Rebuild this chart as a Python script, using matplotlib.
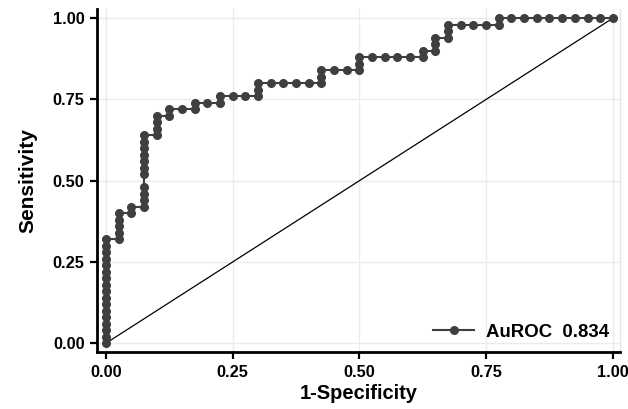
import matplotlib
matplotlib.use("Agg")
import matplotlib.pyplot as plt

plt.rcParams['font.family'] = ['Liberation Sans', 'DejaVu Sans']
plt.rcParams['font.weight'] = 'bold'

# ROC points (1-specificity, sensitivity)
fpr = [0.000, 0.000, 0.000, 0.000, 0.000, 0.000, 0.000, 0.000, 0.000,
       0.000, 0.000, 0.000, 0.000, 0.000, 0.000, 0.000, 0.000,
       0.025, 0.025, 0.025, 0.025, 0.025,
       0.050, 0.050,
       0.075, 0.075, 0.075, 0.075, 0.075, 0.075, 0.075, 0.075, 0.075, 0.075, 0.075,
       0.100, 0.100, 0.100, 0.100,
       0.125, 0.125,
       0.150,
       0.175, 0.175,
       0.200,
       0.225, 0.225,
       0.250,
       0.275,
       0.300, 0.300, 0.300,
       0.325, 0.350, 0.375, 0.400,
       0.425, 0.425, 0.425,
       0.450, 0.475,
       0.500, 0.500, 0.500,
       0.525, 0.550, 0.575, 0.600,
       0.625, 0.625,
       0.650, 0.650, 0.650,
       0.675, 0.675, 0.675,
       0.700, 0.725, 0.750,
       0.775, 0.775,
       0.800, 0.825, 0.850, 0.875, 0.900, 0.925, 0.950, 0.975, 1.000]

tpr = [0.00, 0.02, 0.04, 0.06, 0.08, 0.10, 0.12, 0.14, 0.16,
       0.18, 0.20, 0.22, 0.24, 0.26, 0.28, 0.30, 0.32,
       0.32, 0.34, 0.36, 0.38, 0.40,
       0.40, 0.42,
       0.42, 0.44, 0.46, 0.48, 0.52, 0.54, 0.56, 0.58, 0.60, 0.62, 0.64,
       0.64, 0.66, 0.68, 0.70,
       0.70, 0.72,
       0.72,
       0.72, 0.74,
       0.74,
       0.74, 0.76,
       0.76,
       0.76,
       0.76, 0.78, 0.80,
       0.80, 0.80, 0.80, 0.80,
       0.80, 0.82, 0.84,
       0.84, 0.84,
       0.84, 0.86, 0.88,
       0.88, 0.88, 0.88, 0.88,
       0.88, 0.90,
       0.90, 0.92, 0.94,
       0.94, 0.96, 0.98,
       0.98, 0.98, 0.98,
       0.98, 1.00,
       1.00, 1.00, 1.00, 1.00, 1.00, 1.00, 1.00, 1.00, 1.00]

auc_label = "AuROC  0.834"
ticks = [0.00, 0.25, 0.50, 0.75, 1.00]
tick_labels = ["0.00", "0.25", "0.50", "0.75", "1.00"]

fig = plt.figure(figsize=(6.28, 4.09), dpi=100)
ax = fig.add_axes([0.1545, 0.139, 0.8325, 0.8386])

ax.plot([0, 1], [0, 1], color='black', linewidth=0.9, zorder=2)
ax.plot(fpr, tpr, color='#3f3f3f', linewidth=1.5, marker='o', markersize=5.5,
        label=auc_label, zorder=3)

ax.set_xlim(-0.0178, 1.0138)
ax.set_ylim(-0.0277, 1.0277)
ax.set_xticks(ticks)
ax.set_xticklabels(tick_labels)
ax.set_yticks(ticks)
ax.set_yticklabels(tick_labels)

ax.grid(True, color='#ebebeb', linewidth=1.0, zorder=0)
ax.set_axisbelow(True)

ax.spines['top'].set_visible(False)
ax.spines['right'].set_color('#e6e6e6')
ax.spines['right'].set_linewidth(1.0)
ax.spines['left'].set_linewidth(2.0)
ax.spines['bottom'].set_linewidth(2.0)
ax.tick_params(axis='both', direction='out', length=5, width=1.6,
               labelsize=11.8, pad=4, colors='black')
for lab in ax.get_xticklabels() + ax.get_yticklabels():
    lab.set_fontweight('bold')

ax.set_xlabel("1-Specificity", fontsize=14.5, fontweight='bold', labelpad=3)
ax.set_ylabel("Sensitivity", fontsize=15, fontweight='bold', labelpad=11)

leg = ax.legend(loc='lower right', frameon=False, fontsize=13.4,
                handlelength=2.2, handletextpad=0.6, borderaxespad=0.2)
for t in leg.get_texts():
    t.set_fontweight('bold')

plt.savefig('out.png', dpi=100)
